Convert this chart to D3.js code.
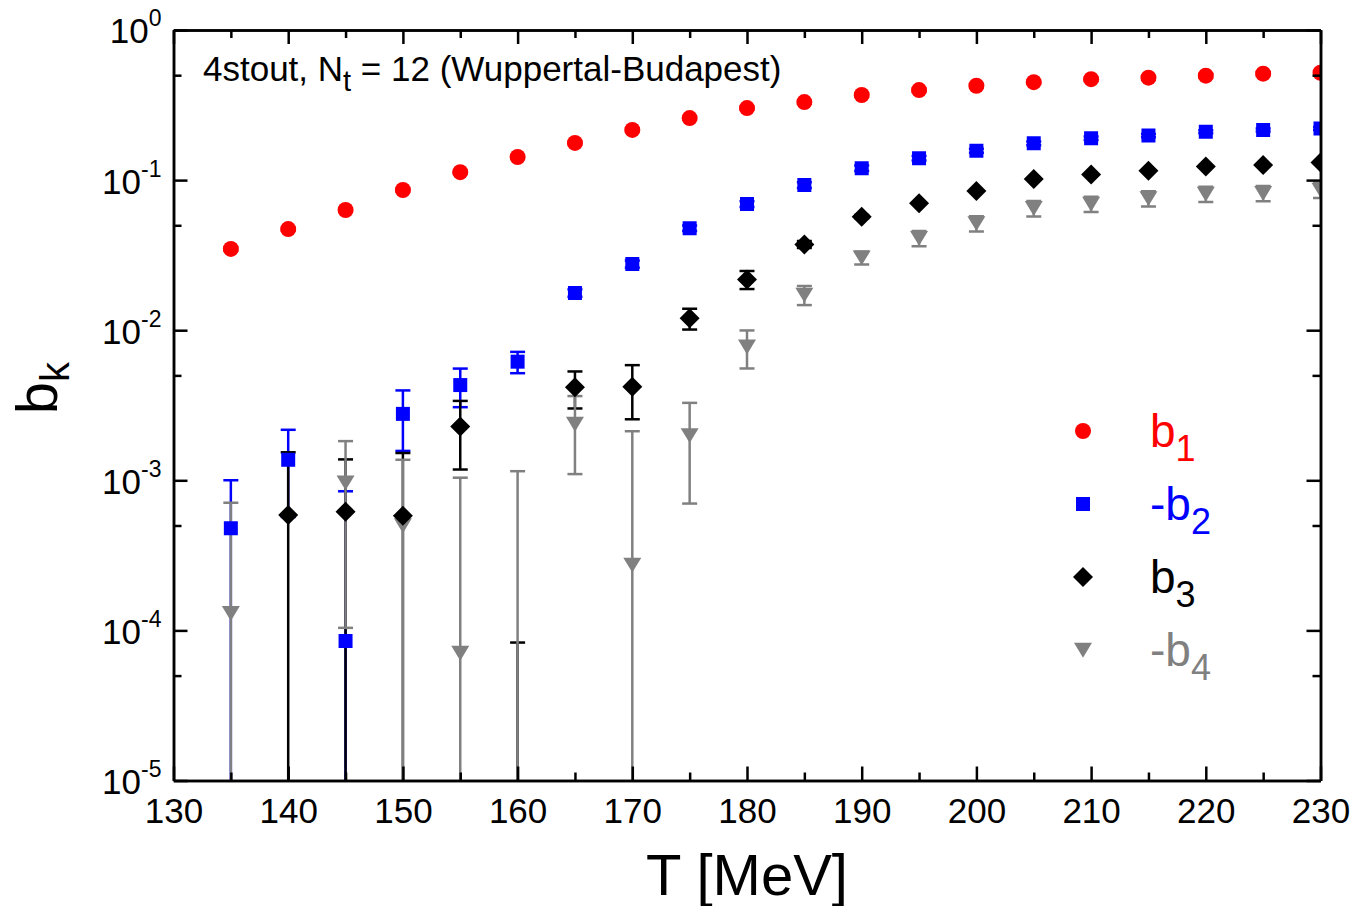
<!DOCTYPE html>
<html>
<head>
<meta charset="utf-8">
<script src="https://cdn.jsdelivr.net/npm/d3@7"></script>
<style>
  html, body { margin: 0; padding: 0; background: #fff; }
  svg { display: block; font-family: "Liberation Sans", Arial, sans-serif; }
</style>
</head>
<body>
<svg id="chart" width="1356" height="906"></svg>
<script>
// Temperatures (MeV)
const temps = [135, 140, 145, 150, 155, 160, 165, 170, 175, 180,
               185, 190, 195, 200, 205, 210, 215, 220, 225, 230];

// Fourier coefficients b_k with their errors (null = no data point)
const b1 = [0.0348, 0.0472, 0.0632, 0.0859, 0.113, 0.1425, 0.177, 0.216, 0.259, 0.302,
            0.331, 0.369, 0.398, 0.425, 0.449, 0.470, 0.481, 0.496, 0.512, 0.519];
const b1Err = [0.001, 0.0012, 0.0015, 0.002, 0.0025, 0.003, 0.004, 0.005, 0.006, 0.007,
               0.008, 0.009, 0.01, 0.01, 0.011, 0.012, 0.012, 0.013, 0.013, 0.014];

const negB2 = [4.8e-4, 1.37e-3, 8.5e-5, 2.77e-3, 4.31e-3, 6.17e-3, 0.0177, 0.0276, 0.0478, 0.0693,
               0.0927, 0.120, 0.140, 0.157, 0.176, 0.190, 0.198, 0.210, 0.216, 0.221];
const negB2Err = [5.2e-4, 8.0e-4, 7.6e-4, 1.2e-3, 1.24e-3, 1.0e-3, 1.0e-3, 1.5e-3, 2.0e-3, 3.0e-3,
                  4.0e-3, 5.0e-3, 5.0e-3, 5.0e-3, 5.0e-3, 5.0e-3, 5.0e-3, 5.0e-3, 5.0e-3, 5.0e-3];

const b3 = [null, 5.87e-4, 6.18e-4, 5.8e-4, 2.28e-3, -1.0e-3, 4.16e-3, 4.2e-3, 0.0120, 0.0218,
            0.0373, 0.0571, 0.070, 0.0846, 0.1017, 0.109, 0.1155, 0.123, 0.126, 0.131];
const b3Err = [null, 9.5e-4, 7.6e-4, 9.4e-4, 1.1e-3, 1.083e-3, 1.15e-3, 1.65e-3, 1.9e-3, 3.0e-3,
               2.0e-3, 1.5e-3, 5e-4, 5e-4, 5e-4, 5e-4, 5e-4, 5e-4, 5e-4, 5e-4];

const negB4 = [1.3e-4, null, 9.64e-4, 5.0e-4, 7.07e-5, -2.0e-4, 2.37e-3, 2.73e-4, 1.99e-3, 7.76e-3,
               0.0172, 0.0304, 0.041, 0.0515, 0.0649, 0.0693, 0.0756, 0.0808, 0.0817, 0.0859];
const negB4Err = [5.8e-4, null, 8.6e-4, 8.7e-4, 9.7e-4, 1.35e-3, 1.27e-3, 1.85e-3, 1.29e-3, 2.2e-3,
                  2.5e-3, 3.0e-3, 4.8e-3, 6.0e-3, 7.6e-3, 8.1e-3, 8.8e-3, 9.4e-3, 9.5e-3, 1.0e-2];

// Axis ticks
const xMajorTicks = [130, 140, 150, 160, 170, 180, 190, 200, 210, 220, 230];
const xMinorTicks = [135, 145, 155, 165, 175, 185, 195, 205, 215, 225];
const yMajorTicks = [1e-5, 1e-4, 1e-3, 1e-2, 1e-1, 1];
const yMinorTicks = [5e-5, 5e-4, 5e-3, 5e-2, 5e-1];
const yTickExponents = ["-5", "-4", "-3", "-2", "-1", "0"];

const annotation = { pre: "4stout, N", sub: "t", post: " = 12 (Wuppertal-Budapest)" };

const series = {
  b1:  { label: "b",  sub: "1", values: b1,    errs: b1Err,    color: "#ff0000", shape: "circle" },
  b2:  { label: "-b", sub: "2", values: negB2, errs: negB2Err, color: "#0000ff", shape: "square" },
  b3:  { label: "b",  sub: "3", values: b3,    errs: b3Err,    color: "#000000", shape: "diamond" },
  b4:  { label: "-b", sub: "4", values: negB4, errs: negB4Err, color: "#808080", shape: "triangle" }
};
const errorBarOrder = ["b1", "b2", "b3", "b4"];
const markerOrder = ["b4", "b3", "b2", "b1"];
const legendOrder = ["b1", "b2", "b3", "b4"];

// ---- layout ----
const svg = d3.select("#chart");
const plotLeft = 173.5, plotRight = 1320.5, plotTop = 30, plotBottom = 780.5;

const x = d3.scaleLinear().domain([130, 230]).range([plotLeft, plotRight]);
const y = d3.scaleLog().domain([1e-5, 1]).range([plotBottom, plotTop]);

// custom marker shapes (size = nominal width in px)
const shapes = {
  circle:  { draw(c, s) { const r = s / 2; c.moveTo(r, 0); c.arc(0, 0, r, 0, 2 * Math.PI); } },
  square:  { draw(c, s) { const h = s / 2; c.moveTo(-h, -h); c.lineTo(h, -h); c.lineTo(h, h); c.lineTo(-h, h); c.closePath(); } },
  diamond: { draw(c, s) { const h = s / 2; c.moveTo(0, -h); c.lineTo(h, 0); c.lineTo(0, h); c.lineTo(-h, 0); c.closePath(); } },
  triangle:{ draw(c, s) { const h = s / 2; c.moveTo(-h, -0.8 * h); c.lineTo(h, -0.8 * h); c.lineTo(0, 0.85 * h); c.closePath(); } }
};
const shapeSize = { circle: 16, square: 14, diamond: 20, triangle: 18 };

svg.append("defs").append("clipPath").attr("id", "plot-clip")
  .append("rect").attr("x", plotLeft).attr("y", plotTop - 1)
  .attr("width", plotRight - plotLeft).attr("height", plotBottom - plotTop + 1);

const plot = svg.append("g").attr("clip-path", "url(#plot-clip)");
const points = key => {
  const s = series[key];
  return temps.map((t, i) => ({ t, v: s.values[i], e: s.errs[i] })).filter(d => d.v !== null);
};

// error bars (a lower bound at or below zero runs down to the axis)
errorBarOrder.forEach(key => {
  const s = series[key];
  const g = plot.append("g").attr("class", "errors-" + key)
    .attr("stroke", s.color).attr("stroke-width", 2.5);
  points(key).forEach(d => {
    const hi = d.v + d.e;
    const lo = d.v - d.e;
    if (hi <= 0) return;
    const yHi = y(hi);
    const yLo = lo > 0 ? y(lo) : plotBottom;
    const cx = x(d.t);
    g.append("line").attr("x1", cx).attr("x2", cx).attr("y1", yHi).attr("y2", yLo);
    g.append("line").attr("x1", cx - 7.5).attr("x2", cx + 7.5).attr("y1", yHi).attr("y2", yHi);
    if (lo > 0) {
      g.append("line").attr("x1", cx - 7.5).attr("x2", cx + 7.5).attr("y1", yLo).attr("y2", yLo);
    }
  });
});

// markers (only positive values are shown on the log axis)
markerOrder.forEach(key => {
  const s = series[key];
  plot.append("g").attr("class", "markers-" + key)
    .selectAll("path").data(points(key).filter(d => d.v > 0)).join("path")
    .attr("transform", d => `translate(${x(d.t)},${y(d.v)})`)
    .attr("d", d3.symbol().type(shapes[s.shape]).size(shapeSize[s.shape]))
    .attr("fill", s.color);
});

// ---- axes ----
const axisStyle = g => {
  g.selectAll(".domain").attr("stroke", "#000").attr("stroke-width", 2.5);
  g.selectAll(".tick line").attr("stroke", "#000").attr("stroke-width", 2.5);
};

// bottom
svg.append("g").attr("transform", `translate(0,${plotBottom})`)
  .call(d3.axisBottom(x).tickValues(xMajorTicks).tickSize(-14).tickSizeOuter(0).tickPadding(18)
        .tickFormat(d3.format("d")))
  .call(axisStyle)
  .call(g => g.selectAll(".tick text").attr("font-size", 35).attr("fill", "#000")
              .attr("font-family", "Liberation Sans, Arial, sans-serif"));
svg.append("g").attr("transform", `translate(0,${plotBottom})`)
  .call(d3.axisBottom(x).tickValues(xMinorTicks).tickSize(-8).tickSizeOuter(0).tickFormat(""))
  .call(axisStyle);

// top
svg.append("g").attr("transform", `translate(0,${plotTop})`)
  .call(d3.axisTop(x).tickValues(xMajorTicks).tickSize(-14).tickSizeOuter(0).tickFormat(""))
  .call(axisStyle);
svg.append("g").attr("transform", `translate(0,${plotTop})`)
  .call(d3.axisTop(x).tickValues(xMinorTicks).tickSize(-8).tickSizeOuter(0).tickFormat(""))
  .call(axisStyle);

// left
const leftAxis = svg.append("g").attr("transform", `translate(${plotLeft},0)`)
  .call(d3.axisLeft(y).tickValues(yMajorTicks).tickSize(-14).tickSizeOuter(0).tickPadding(12)
        .tickFormat(() => ""))
  .call(axisStyle);
svg.append("g").attr("transform", `translate(${plotLeft},0)`)
  .call(d3.axisLeft(y).tickValues(yMinorTicks).tickSize(-8).tickSizeOuter(0).tickFormat(""))
  .call(axisStyle);

leftAxis.selectAll(".tick text").each(function (d, i) {
  const t = d3.select(this)
    .attr("font-size", 35).attr("fill", "#000").attr("dy", "0.37em")
    .attr("font-family", "Liberation Sans, Arial, sans-serif");
  t.text(null);
  t.append("tspan").text("10");
  t.append("tspan").attr("font-size", 23).attr("dy", -17).text(yTickExponents[i]);
});

// right
svg.append("g").attr("transform", `translate(${plotRight},0)`)
  .call(d3.axisRight(y).tickValues(yMajorTicks).tickSize(-14).tickSizeOuter(0).tickFormat(""))
  .call(axisStyle);
svg.append("g").attr("transform", `translate(${plotRight},0)`)
  .call(d3.axisRight(y).tickValues(yMinorTicks).tickSize(-8).tickSizeOuter(0).tickFormat(""))
  .call(axisStyle);

// ---- axis titles ----
svg.append("text")
  .attr("x", (plotLeft + plotRight) / 2).attr("y", 895)
  .attr("text-anchor", "middle").attr("font-size", 58).attr("fill", "#000")
  .text("T [MeV]");

const yTitle = svg.append("text")
  .attr("transform", "translate(57,388) rotate(-90)")
  .attr("text-anchor", "middle").attr("font-size", 58).attr("fill", "#000");
yTitle.append("tspan").text("b");
yTitle.append("tspan").attr("font-size", 40).attr("dy", 12).text("k");

// ---- annotation ----
const ann = svg.append("text").attr("x", 203).attr("y", 81)
  .attr("font-size", 35).attr("fill", "#000");
ann.append("tspan").text(annotation.pre);
ann.append("tspan").attr("font-size", 29).attr("dy", 10).text(annotation.sub);
ann.append("tspan").attr("dy", -10).text(annotation.post);

// ---- legend ----
const legend = svg.append("g");
legendOrder.forEach((k, i) => {
  const s = series[k];
  const cy = 431 + i * 73;
  legend.append("path")
    .attr("transform", `translate(1083,${cy})`)
    .attr("d", d3.symbol().type(shapes[s.shape]).size(shapeSize[s.shape]))
    .attr("fill", s.color);
  const t = legend.append("text").attr("x", 1150).attr("y", cy + 16)
    .attr("font-size", 46).attr("fill", s.color);
  t.append("tspan").text(s.label);
  t.append("tspan").attr("font-size", 36).attr("dy", 14).text(s.sub);
});
</script>
</body>
</html>
